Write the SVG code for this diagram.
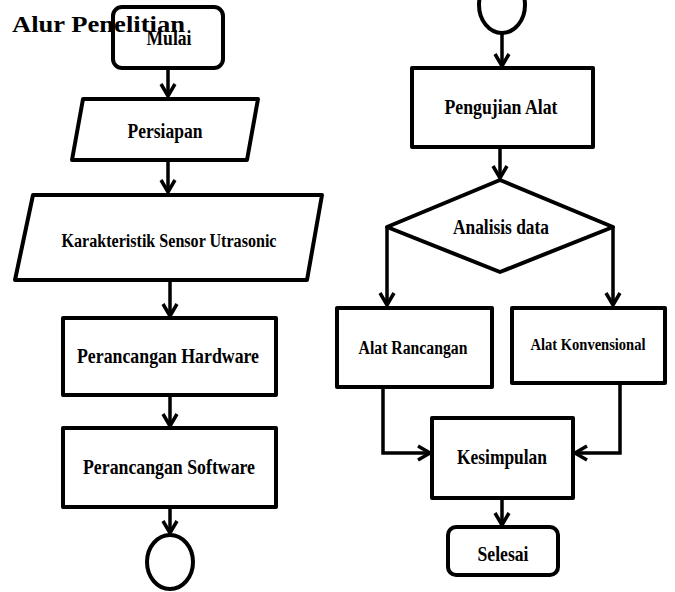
<svg xmlns="http://www.w3.org/2000/svg" width="675" height="592" viewBox="0 0 675 592">
<style>
.s{fill:#fff;stroke:#000;stroke-width:4;stroke-linejoin:round}
.t{font-family:"Liberation Serif",serif;font-weight:bold;fill:#000;text-anchor:middle}
.c{fill:none;stroke:#000;stroke-width:3.5}
</style>
<defs>
<marker id="arr" markerUnits="userSpaceOnUse" markerWidth="20" markerHeight="20" refX="13" refY="8" orient="auto" overflow="visible">
<path d="M1,1 L13,8 L1,15" fill="none" stroke="#000" stroke-width="3.5"/>
</marker>
</defs>
<rect width="675" height="592" fill="#fff"/>
<g id="connectors">
<path class="c" d="M168,68 V96" marker-end="url(#arr)"/>
<path class="c" d="M168,160 V192" marker-end="url(#arr)"/>
<path class="c" d="M170,280 V316" marker-end="url(#arr)"/>
<path class="c" d="M170,395 V426" marker-end="url(#arr)"/>
<path class="c" d="M170,507 V533" marker-end="url(#arr)"/>
<path class="c" d="M502,33 V66" marker-end="url(#arr)"/>
<path class="c" d="M500,147 V178" marker-end="url(#arr)"/>
<path class="c" d="M387,227 V305" marker-end="url(#arr)"/>
<path class="c" d="M613,227 V305" marker-end="url(#arr)"/>
<path class="c" d="M383,387 V453 H430" marker-end="url(#arr)"/>
<path class="c" d="M620,383 V453 H575" marker-end="url(#arr)"/>
<path class="c" d="M502,498 V525" marker-end="url(#arr)"/>
</g>
<g id="mulai">
<rect class="s" x="113" y="7" width="110" height="61" rx="9"/>
<text class="t" x="169" y="45" font-size="20" textLength="45" lengthAdjust="spacingAndGlyphs">Mulai</text>
</g>
<g id="title">
<text x="12" y="32" font-family="Liberation Serif,serif" font-weight="bold" font-size="24" textLength="173" lengthAdjust="spacingAndGlyphs">Alur Penelitian</text>
</g>
<g id="persiapan">
<polygon class="s" points="83,99 258,99 247,160 72,160"/>
<text class="t" x="165" y="138" font-size="22" textLength="75" lengthAdjust="spacingAndGlyphs">Persiapan</text>
</g>
<g id="karakteristik">
<polygon class="s" points="33,195 322,195 307,280 15,280"/>
<text class="t" x="169" y="247" font-size="18" textLength="215" lengthAdjust="spacingAndGlyphs">Karakteristik Sensor Utrasonic</text>
</g>
<g id="hardware">
<rect class="s" x="63" y="318" width="213" height="77"/>
<text class="t" x="168" y="363" font-size="21" textLength="182" lengthAdjust="spacingAndGlyphs">Perancangan Hardware</text>
</g>
<g id="software">
<rect class="s" x="63" y="428" width="213" height="79"/>
<text class="t" x="169" y="474" font-size="21" textLength="172" lengthAdjust="spacingAndGlyphs">Perancangan Software</text>
</g>
<g id="connector-a">
<ellipse class="s" cx="170" cy="562" rx="23" ry="27"/>
</g>
<g id="connector-b">
<ellipse class="s" cx="502" cy="5" rx="23" ry="28"/>
</g>
<g id="pengujian">
<rect class="s" x="412" y="68" width="181" height="79"/>
<text class="t" x="501" y="114" font-size="21" textLength="113" lengthAdjust="spacingAndGlyphs">Pengujian Alat</text>
</g>
<g id="analisis">
<polygon class="s" points="500,180 613,227 500,272 387,227"/>
<text class="t" x="501" y="234" font-size="21" textLength="96" lengthAdjust="spacingAndGlyphs">Analisis data</text>
</g>
<g id="rancangan">
<rect class="s" x="337" y="308" width="155" height="79"/>
<text class="t" x="413" y="354" font-size="18" textLength="109" lengthAdjust="spacingAndGlyphs">Alat Rancangan</text>
</g>
<g id="konvensional">
<rect class="s" x="512" y="308" width="153" height="75"/>
<text class="t" x="588" y="350" font-size="17" textLength="115" lengthAdjust="spacingAndGlyphs">Alat Konvensional</text>
</g>
<g id="kesimpulan">
<rect class="s" x="432" y="418" width="141" height="80"/>
<text class="t" x="502" y="464" font-size="22" textLength="90" lengthAdjust="spacingAndGlyphs">Kesimpulan</text>
</g>
<g id="selesai">
<rect class="s" x="448" y="527" width="110" height="48" rx="8"/>
<text class="t" x="503" y="561" font-size="21" textLength="51" lengthAdjust="spacingAndGlyphs">Selesai</text>
</g>
</svg>
